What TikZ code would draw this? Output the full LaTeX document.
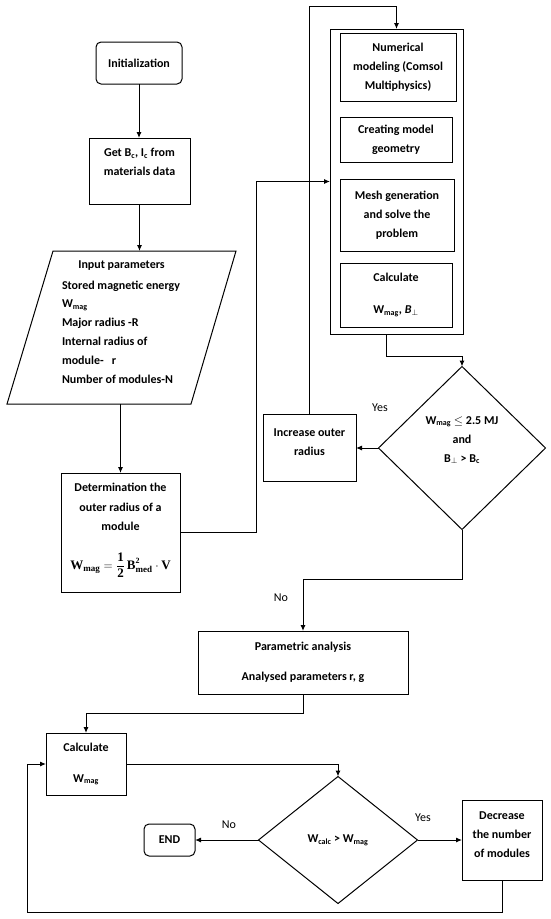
\documentclass[tikz,border=0pt]{standalone}
\usepackage{fontspec}
\setmainfont{Carlito}
\newfontfamily\fserif{Liberation Serif}
\usetikzlibrary{arrows.meta,shapes.geometric}
\begin{document}
\begin{tikzpicture}[x=1pt,y=-1pt,
  every node/.style={font=\fontsize{12}{19}\selectfont\bfseries, inner sep=0pt, outer sep=0pt},
  box/.style={draw, line width=1pt, rectangle, align=center},
  rbox/.style={box, rounded corners=5pt},
  dbox/.style={draw, line width=1pt, diamond, align=center},
  lbl/.style={font=\fontsize{12}{14}\selectfont},
  txt/.style={align=center},
  arr/.style={line width=1pt, -{Latex[length=6pt,width=5pt]}},
  ln/.style={line width=1pt}]
\useasboundingbox (0,0) rectangle (550,919);
% left column
\node[rbox, minimum width=86pt, minimum height=42pt] (init) at (139,63) {Initialization};
\node[box, minimum width=101pt, minimum height=66pt] (get) at (139.5,171) {};
\node[txt] (gett) at (139.5,162) {Get B\textsubscript{c}, I\textsubscript{c} from\\materials data};
\draw[ln] (53,251) -- (236,251) -- (191,404) -- (7,404) -- cycle;
\node[minimum width=229pt, minimum height=153pt] (para) at (121.5,327.5) {};
\node (parat1) at (121.5,266) {Input parameters};
\node[align=left, anchor=west, font=\fontsize{12}{18.8}\selectfont\bfseries] (parat2) at (62,332) {Stored magnetic energy\\W\textsubscript{mag}\\Major radius -R\\Internal radius of\\module-\ \ \ r\\Number of modules-N};
\node[box, minimum width=119pt, minimum height=119pt] (det) at (120.5,532.5) {};
\node[txt, font=\fontsize{12}{19.5}\selectfont\bfseries] (dett) at (120.5,507) {Determination the\\outer radius of a\\module};
\node[font=\fontsize{13}{15}\selectfont\fserif\bfseries] (detf) at (120.5,565) {$\displaystyle\hbox{W}_{\hbox{\fontsize{9}{10}\selectfont mag}}=\frac{\hbox{1}}{\hbox{2}}\,\hbox{B}^{\hbox{\fontsize{8}{9}\selectfont 2}}_{\hbox{\fontsize{9}{10}\selectfont med}}\cdot\hbox{V}$};
% right column
\node[box, minimum width=133pt, minimum height=305pt] (outer) at (396.5,181.5) {};
\node[box, minimum width=116pt, minimum height=68pt] (num) at (398,67) {Numerical\\modeling (Comsol\\Multiphysics)};
\node[box, minimum width=112pt, minimum height=45pt] (cre) at (396,139.5) {Creating model\\geometry};
\node[box, minimum width=114pt, minimum height=72pt] (mesh) at (397,215) {Mesh generation\\and solve the\\problem};
\node[box, minimum width=112pt, minimum height=64pt] (calc1) at (396,295) {Calculate\\[13pt]W\textsubscript{mag}, \textit{B}\textsubscript{$\perp$}};
\node[dbox, minimum width=167pt, minimum height=163pt] (dia1) at (462,448) {};
\node[txt] (dia1t) at (462,440) {W\textsubscript{mag} $\le$ 2.5 MJ\\and\\B\textsubscript{$\perp$} > B\textsubscript{c}};
\node[box, minimum width=93pt, minimum height=67pt] (inc) at (309.5,448) {};
\node[txt] (inct) at (309.5,442) {Increase outer\\radius};
\node[lbl] (yes1) at (380,408) {Yes};
% lower part
\node[lbl] (no1) at (281,598) {No};
\node[box, minimum width=210pt, minimum height=63pt] (par) at (303,662.5) {Parametric analysis\\[11pt]Analysed parameters r, g};
\node[box, minimum width=80pt, minimum height=62pt] (calc2) at (86,764) {Calculate\\[12pt]W\textsubscript{mag}};
\node[dbox, minimum width=159pt, minimum height=127pt] (dia2) at (338,840) {W\textsubscript{calc} > W\textsubscript{mag}};
\node[rbox, minimum width=51pt, minimum height=32pt] (end) at (169.5,840) {END};
\node[box, minimum width=80pt, minimum height=80pt] (dec) at (502,840) {};
\node[txt] (dect) at (502,835) {Decrease\\the number\\of modules};
\node[lbl] (no2) at (229,825) {No};
\node[lbl] (yes2) at (423,818) {Yes};
% helper coordinates
\coordinate (topc) at (0,6);
\coordinate (c1) at (386,356);
\coordinate (c2) at (27,912);
% connectors
\draw[arr] (init.south) -- (init.south |- get.north);
\draw[arr] (get.south) -- (get.south |- para.north);
\draw[arr] (det.north |- para.south) -- (det.north);
\draw[arr] (det.east) -- ++(76,0) |- (outer.west);
\draw[arr] (inc.north) -- (inc.north |- topc) -| (outer.north);
\draw[arr] (outer.south -| c1) -- (c1) -| (dia1.north);
\draw[arr] (dia1.west) -- (inc.east);
\draw[arr] (dia1.south) -- ++(0,50) -| (par.north);
\draw[arr] (par.south) -- ++(0,19) -| (calc2.north);
\draw[arr] (calc2.east) -| (dia2.north);
\draw[arr] (dia2.west) -- (end.east);
\draw[arr] (dia2.east) -- (dec.west);
\draw[arr] (dec.south) |- (c2) |- (calc2.west);
\end{tikzpicture}
\end{document}
